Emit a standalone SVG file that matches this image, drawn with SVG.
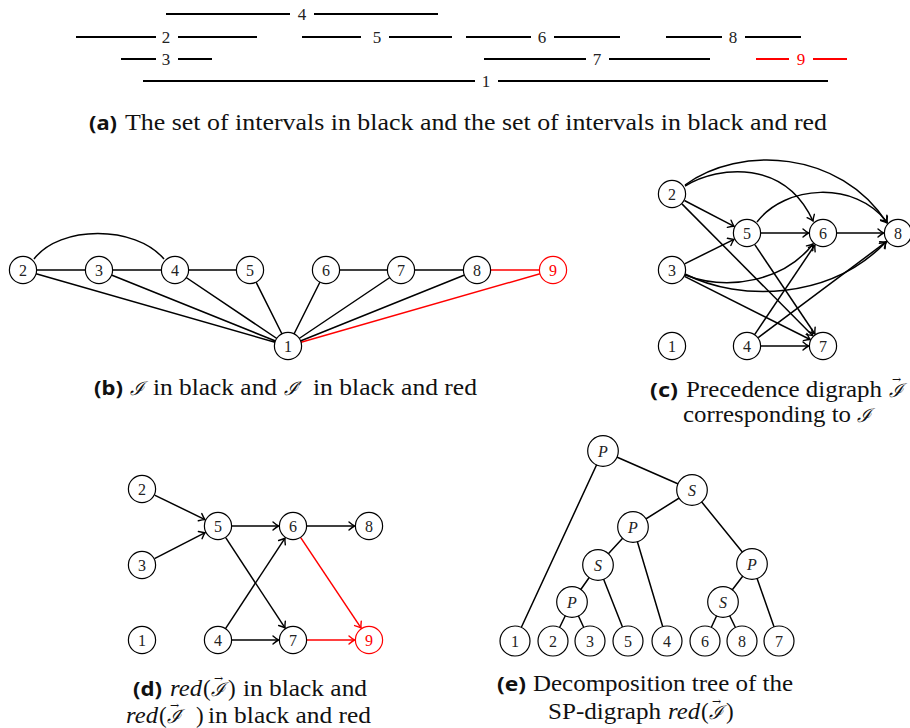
<svg xmlns="http://www.w3.org/2000/svg" width="910" height="728" viewBox="0 0 910 728">
<style>
.iv{stroke:#000;stroke-width:2;fill:none}
.ivr{stroke:#f00;stroke-width:2;fill:none}
.num{font-family:"Liberation Serif","Times New Roman","DejaVu Serif",serif;font-size:17px;text-anchor:middle;fill:#222}
.e{stroke:#000;stroke-width:1.5;fill:none}
.er{stroke:#f00;stroke-width:1.5;fill:none}
.a{stroke:#000;stroke-width:1.5;fill:none;marker-end:url(#ar)}
.ar{stroke:#f00;stroke-width:1.5;fill:none;marker-end:url(#arr)}
.n circle{fill:#fff;stroke:#000;stroke-width:1.2}
.n text{font-family:"Liberation Serif","Times New Roman","DejaVu Serif",serif;font-size:16px;text-anchor:middle;fill:#222}
.n.red circle{stroke:#f00}
.n.red text{fill:#f00}
.t text{font-style:italic}
.cap{font-family:"Liberation Serif","Times New Roman","DejaVu Serif",serif;font-size:23px;fill:#111}
.it{font-style:italic}
.bl{font-family:"Noto Sans","Liberation Sans",sans-serif;font-weight:bold;font-size:20px;fill:#111}
.cal{font-family:"DejaVu Serif","Liberation Serif",serif;font-size:19px;font-style:italic;fill:#111}
.vec{font-size:11px;font-style:normal}
.pr{font-family:"DejaVu Sans","Liberation Sans",sans-serif;font-size:17px;font-style:normal}
</style>
<defs>
<marker id="ar" viewBox="-7 -5 9 10" markerWidth="9" markerHeight="10" refX="0" refY="0" orient="auto" markerUnits="userSpaceOnUse"><path d="M-5.5,-4 Q-2,-1 0,0 Q-2,1 -5.5,4" fill="none" stroke="#000" stroke-width="1.4" stroke-linecap="round"/></marker>
<marker id="arr" viewBox="-7 -5 9 10" markerWidth="9" markerHeight="10" refX="0" refY="0" orient="auto" markerUnits="userSpaceOnUse"><path d="M-5.5,-4 Q-2,-1 0,0 Q-2,1 -5.5,4" fill="none" stroke="#f00" stroke-width="1.4" stroke-linecap="round"/></marker>
</defs>

<!-- (a) intervals -->
<g id="intervals">
<g id="iv4"><path class="iv" d="M166,14H290M314,14H438"/><text class="num" x="302" y="20">4</text></g>
<g id="iv2"><path class="iv" d="M76,37H156M178,37H257"/><text class="num" x="166" y="43">2</text></g>
<g id="iv5"><path class="iv" d="M302,37H361M389,37H452"/><text class="num" x="377" y="43">5</text></g>
<g id="iv6"><path class="iv" d="M466,37H531M554,37H620"/><text class="num" x="542" y="43">6</text></g>
<g id="iv8"><path class="iv" d="M666,37H722M745,37H801"/><text class="num" x="733" y="43">8</text></g>
<g id="iv3"><path class="iv" d="M121,59H156M178,59H212"/><text class="num" x="166" y="65">3</text></g>
<g id="iv7"><path class="iv" d="M484,59H586M609,59H710"/><text class="num" x="597" y="65">7</text></g>
<g id="iv9"><path class="ivr" d="M756,59H789M813,59H847"/><text class="num" x="801" y="65" style="fill:#f00">9</text></g>
<g id="iv1"><path class="iv" d="M143,81H475M498,81H828"/><text class="num" x="486" y="87">1</text></g>
</g>
<text class="bl" x="89" y="130" textLength="28" lengthAdjust="spacingAndGlyphs">(a)</text>
<text class="cap" x="125" y="130" textLength="702" lengthAdjust="spacingAndGlyphs">The set of intervals in black and the set of intervals in black and red</text>

<!-- (b) -->
<g id="b-edges">
<path class="e" d="M23,270H99M99,270H175M175,270H250M326,270H401M401,270H477"/>
<path class="e" d="M34,259C60,225 135,225 164,259"/>
<path class="e" d="M288,346L23,270M288,346L99,270M288,346L175,270M288,346L250,270M288,346L326,270M288,346L401,270M288,346L477,270"/>
<path class="er" d="M477,270H553M288,346L553,270"/>
</g>
<g id="b-n2" class="n"><circle cx="23" cy="270" r="13.6"/><text x="23" y="275.5">2</text></g>
<g id="b-n3" class="n"><circle cx="99" cy="270" r="13.6"/><text x="99" y="275.5">3</text></g>
<g id="b-n4" class="n"><circle cx="175" cy="270" r="13.6"/><text x="175" y="275.5">4</text></g>
<g id="b-n5" class="n"><circle cx="250" cy="270" r="13.6"/><text x="250" y="275.5">5</text></g>
<g id="b-n6" class="n"><circle cx="326" cy="270" r="13.6"/><text x="326" y="275.5">6</text></g>
<g id="b-n7" class="n"><circle cx="401" cy="270" r="13.6"/><text x="401" y="275.5">7</text></g>
<g id="b-n8" class="n"><circle cx="477" cy="270" r="13.6"/><text x="477" y="275.5">8</text></g>
<g id="b-n9" class="n red"><circle cx="553" cy="270" r="13.6"/><text x="553" y="275.5">9</text></g>
<g id="b-n1" class="n"><circle cx="288" cy="346" r="13.6"/><text x="288" y="351.5">1</text></g>
<text class="bl" x="94" y="395" textLength="29" lengthAdjust="spacingAndGlyphs">(b)</text>
<text class="cal" x="130" y="395">ℐ</text>
<text class="cap" x="153" y="395" textLength="124" lengthAdjust="spacingAndGlyphs">in black and</text>
<text class="cal" x="284" y="395">ℐ<tspan class="pr" dx="0">′</tspan></text>
<text class="cap" x="313" y="395" textLength="164" lengthAdjust="spacingAndGlyphs">in black and red</text>

<!-- (c) -->
<g id="c-edges">
<path class="a" d="M684.4,200.5L734.1,226.3"/>
<path class="a" d="M681.9,203.9L812.8,335.7"/>
<path class="a" d="M684.6,263.8L734,239.4"/>
<path class="a" d="M684.5,276.3L810.1,339.5"/>
<path class="a" d="M761,233H808.5"/>
<path class="a" d="M837,233H883.5"/>
<path class="a" d="M754.8,244.6L814.9,334"/>
<path class="a" d="M754.8,334.4L814.9,245"/>
<path class="a" d="M758.2,337.6L886.4,241.7"/>
<path class="a" d="M761,346H808.5"/>
<path class="a" d="M685,186C720,165 785,160 813,221"/>
<path class="a" d="M685,185C740,145 840,150 887,223"/>
<path class="a" d="M757,222C785,185 855,180 887,222"/>
<path class="a" d="M685,275C730,292 785,280 813,244"/>
<path class="a" d="M685,274C740,302 830,300 886,242"/>
</g>
<g id="c-n2" class="n"><circle cx="672" cy="194" r="13.6"/><text x="672" y="199.5">2</text></g>
<g id="c-n5" class="n"><circle cx="747" cy="233" r="13.6"/><text x="747" y="238.5">5</text></g>
<g id="c-n6" class="n"><circle cx="823" cy="233" r="13.6"/><text x="823" y="238.5">6</text></g>
<g id="c-n8" class="n"><circle cx="898" cy="233" r="13.6"/><text x="898" y="238.5">8</text></g>
<g id="c-n3" class="n"><circle cx="672" cy="270" r="13.6"/><text x="672" y="275.5">3</text></g>
<g id="c-n1" class="n"><circle cx="672" cy="346" r="13.6"/><text x="672" y="351.5">1</text></g>
<g id="c-n4" class="n"><circle cx="747" cy="346" r="13.6"/><text x="747" y="351.5">4</text></g>
<g id="c-n7" class="n"><circle cx="823" cy="346" r="13.6"/><text x="823" y="351.5">7</text></g>
<text class="bl" x="650" y="397" textLength="28" lengthAdjust="spacingAndGlyphs">(c)</text>
<text class="cap" x="686" y="397" textLength="196" lengthAdjust="spacingAndGlyphs">Precedence digraph</text>
<text class="cal" x="889" y="397">ℐ<tspan class="vec" dx="-11" dy="-14">→</tspan></text>
<text class="cap" x="683" y="422" textLength="168" lengthAdjust="spacingAndGlyphs">corresponding to</text>
<text class="cal" x="857" y="422">ℐ</text>

<!-- (d) -->
<g id="d-edges">
<path class="a" d="M154.6,495.1L205,519.6"/>
<path class="a" d="M154.5,558.6L205.1,532.6"/>
<path class="a" d="M232,526H278.5"/>
<path class="a" d="M307,526H354.5"/>
<path class="a" d="M225.7,537.7L285,627.9"/>
<path class="a" d="M225.7,628.3L285,538.1"/>
<path class="a" d="M232,640H278.5"/>
<path class="ar" d="M300.7,537.7L361,627.9"/>
<path class="ar" d="M307,640H354.5"/>
</g>
<g id="d-n2" class="n"><circle cx="142" cy="489" r="13.6"/><text x="142" y="494.5">2</text></g>
<g id="d-n5" class="n"><circle cx="218" cy="526" r="13.6"/><text x="218" y="531.5">5</text></g>
<g id="d-n6" class="n"><circle cx="293" cy="526" r="13.6"/><text x="293" y="531.5">6</text></g>
<g id="d-n8" class="n"><circle cx="369" cy="526" r="13.6"/><text x="369" y="531.5">8</text></g>
<g id="d-n3" class="n"><circle cx="142" cy="565" r="13.6"/><text x="142" y="570.5">3</text></g>
<g id="d-n1" class="n"><circle cx="142" cy="640" r="13.6"/><text x="142" y="645.5">1</text></g>
<g id="d-n4" class="n"><circle cx="218" cy="640" r="13.6"/><text x="218" y="645.5">4</text></g>
<g id="d-n7" class="n"><circle cx="293" cy="640" r="13.6"/><text x="293" y="645.5">7</text></g>
<g id="d-n9" class="n red"><circle cx="369" cy="640" r="13.6"/><text x="369" y="645.5">9</text></g>
<text class="bl" x="133" y="696" textLength="29" lengthAdjust="spacingAndGlyphs">(d)</text>
<text class="cap it" x="170" y="696" textLength="32" lengthAdjust="spacingAndGlyphs">red</text>
<text class="cap" x="203" y="696">(</text>
<text class="cal" x="211" y="696">ℐ<tspan class="vec" dx="-11" dy="-14">→</tspan></text>
<text class="cap" x="228" y="696">)</text>
<text class="cap" x="243" y="696" textLength="124" lengthAdjust="spacingAndGlyphs">in black and</text>
<text class="cap it" x="126" y="723" textLength="32" lengthAdjust="spacingAndGlyphs">red</text>
<text class="cap" x="159" y="723">(</text>
<text class="cal" x="167" y="723">ℐ<tspan class="vec" dx="-11" dy="-14">→</tspan><tspan class="pr" dy="14" dx="0">′</tspan></text>
<text class="cap" x="196" y="723">)</text>
<text class="cap" x="208" y="723" textLength="163" lengthAdjust="spacingAndGlyphs">in black and red</text>

<!-- (e) -->
<g id="e-edges">
<path class="e" d="M603,451L515,641M603,451L692,490M692,490L633,527M692,490L752,564M633,527L598,565M633,527L667,641M598,565L572,602M598,565L628,641M572,602L553,641M572,602L590,641M752,564L723,602M752,564L779,641M723,602L705,641M723,602L742,641"/>
</g>
<g id="e-p1" class="n t"><circle cx="603" cy="451" r="15.3"/><text x="603" y="456.5">P</text></g>
<g id="e-s1" class="n t"><circle cx="692" cy="490" r="15.3"/><text x="692" y="495.5">S</text></g>
<g id="e-p2" class="n t"><circle cx="633" cy="527" r="15.3"/><text x="633" y="532.5">P</text></g>
<g id="e-s2" class="n t"><circle cx="598" cy="565" r="15.3"/><text x="598" y="570.5">S</text></g>
<g id="e-p3" class="n t"><circle cx="572" cy="602" r="15.3"/><text x="572" y="607.5">P</text></g>
<g id="e-p4" class="n t"><circle cx="752" cy="564" r="15.3"/><text x="752" y="569.5">P</text></g>
<g id="e-s3" class="n t"><circle cx="723" cy="602" r="15.3"/><text x="723" y="607.5">S</text></g>
<g id="e-l1" class="n"><circle cx="515" cy="641" r="15"/><text x="515" y="646.5">1</text></g>
<g id="e-l2" class="n"><circle cx="553" cy="641" r="15"/><text x="553" y="646.5">2</text></g>
<g id="e-l3" class="n"><circle cx="590" cy="641" r="15"/><text x="590" y="646.5">3</text></g>
<g id="e-l5" class="n"><circle cx="628" cy="641" r="15"/><text x="628" y="646.5">5</text></g>
<g id="e-l4" class="n"><circle cx="667" cy="641" r="15"/><text x="667" y="646.5">4</text></g>
<g id="e-l6" class="n"><circle cx="705" cy="641" r="15"/><text x="705" y="646.5">6</text></g>
<g id="e-l8" class="n"><circle cx="742" cy="641" r="15"/><text x="742" y="646.5">8</text></g>
<g id="e-l7" class="n"><circle cx="779" cy="641" r="15"/><text x="779" y="646.5">7</text></g>
<text class="bl" x="497" y="691" textLength="29" lengthAdjust="spacingAndGlyphs">(e)</text>
<text class="cap" x="533" y="691" textLength="260" lengthAdjust="spacingAndGlyphs">Decomposition tree of the</text>
<text class="cap" x="548" y="719" textLength="113" lengthAdjust="spacingAndGlyphs">SP-digraph</text>
<text class="cap it" x="668" y="719" textLength="32" lengthAdjust="spacingAndGlyphs">red</text>
<text class="cap" x="701" y="719">(</text>
<text class="cal" x="709" y="719">ℐ<tspan class="vec" dx="-11" dy="-14">→</tspan></text>
<text class="cap" x="726" y="719">)</text>
</svg>
